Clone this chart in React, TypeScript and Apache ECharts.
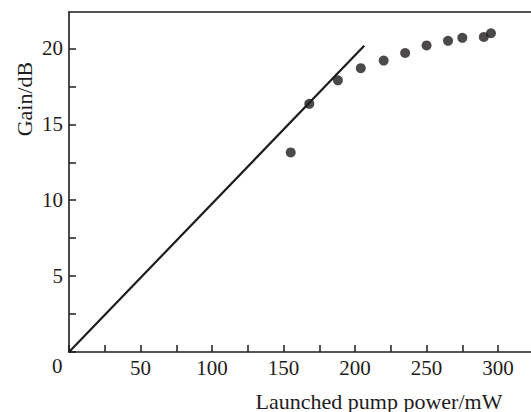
import React, { useEffect, useRef } from "react";
import * as echarts from "echarts";

// Measured data points (launched pump power in mW, gain in dB)
const pumpPower = [155, 168, 188, 204, 220, 235, 250, 265, 275, 290, 295];
const gainDb = [13.15, 16.35, 17.9, 18.7, 19.2, 19.7, 20.2, 20.5, 20.7, 20.75, 21.0];

// Linear fit line endpoints
const fitPower = [0, 206.4];
const fitGain = [0, 20.17];

const xTickLabels = [50, 100, 150, 200, 250, 300];
const yTickLabels = [5, 10, 15, 20];

const INK = "#1f1c1d";
const FONT = "Liberation Serif";

export default function App() {
  const ref = useRef<HTMLDivElement>(null);

  useEffect(() => {
    if (!ref.current) return;
    const chart = echarts.init(ref.current, undefined, { renderer: "svg" });
    const scatterData = pumpPower.map((x, i) => [x, gainDb[i]]);
    const fitData = fitPower.map((x, i) => [x, fitGain[i]]);
    chart.setOption({
      animation: false,
      backgroundColor: "#ffffff",
      grid: { left: 69, right: 0, top: 12, bottom: 60, containLabel: false },
      xAxis: [
        {
          type: "value",
          min: 0,
          max: 323,
          interval: 25,
          position: "bottom",
          splitLine: { show: false },
          axisLine: { show: true, onZero: false, lineStyle: { color: INK, width: 1.6 } },
          axisTick: { show: true, inside: true, length: 7, lineStyle: { color: INK, width: 1.5 } },
          axisLabel: {
            margin: 5,
            fontFamily: FONT,
            fontSize: 21,
            color: INK,
            showMaxLabel: false,
            formatter: (v: number) => (xTickLabels.includes(v) ? String(v) : ""),
          },
        },
        {
          type: "value",
          min: 0,
          max: 323,
          position: "top",
          splitLine: { show: false },
          axisLine: { show: true, onZero: false, lineStyle: { color: INK, width: 1.6 } },
          axisTick: { show: false },
          axisLabel: { show: false },
        },
      ],
      yAxis: {
        type: "value",
        min: 0,
        max: 22.4,
        interval: 2.5,
        splitLine: { show: false },
        axisLine: { show: true, onZero: false, lineStyle: { color: INK, width: 1.6 } },
        axisTick: { show: true, inside: true, length: 7, lineStyle: { color: INK, width: 1.5 } },
        axisLabel: {
          margin: 6,
          fontFamily: FONT,
          fontSize: 21,
          color: INK,
          showMaxLabel: false,
          formatter: (v: number) => (yTickLabels.includes(v) ? String(v) : ""),
        },
      },
      graphic: [
        {
          type: "text",
          left: 52,
          top: 355,
          style: { text: "0", fontFamily: FONT, fontSize: 21, fill: INK },
        },
        {
          type: "text",
          x: 24,
          y: 99,
          rotation: Math.PI / 2,
          style: {
            text: "Gain/dB",
            fontFamily: FONT,
            fontSize: 22,
            fill: INK,
            textAlign: "center",
            textVerticalAlign: "middle",
          },
        },
        {
          type: "text",
          x: 379,
          y: 401,
          style: {
            text: "Launched pump power/mW",
            fontFamily: FONT,
            fontSize: 22,
            fill: INK,
            textAlign: "center",
            textVerticalAlign: "middle",
          },
        },
      ],
      series: [
        {
          type: "line",
          xAxisIndex: 0,
          data: fitData,
          symbol: "none",
          lineStyle: { color: INK, width: 2.2 },
          z: 2,
        },
        {
          type: "scatter",
          xAxisIndex: 0,
          data: scatterData,
          symbol: "circle",
          symbolSize: 10,
          itemStyle: { color: INK },
          z: 3,
        },
      ],
    });
    return () => chart.dispose();
  }, []);

  return (
    <div
      ref={ref}
      style={{ position: "absolute", left: 0, top: 0, width: 531, height: 412 }}
    />
  );
}
